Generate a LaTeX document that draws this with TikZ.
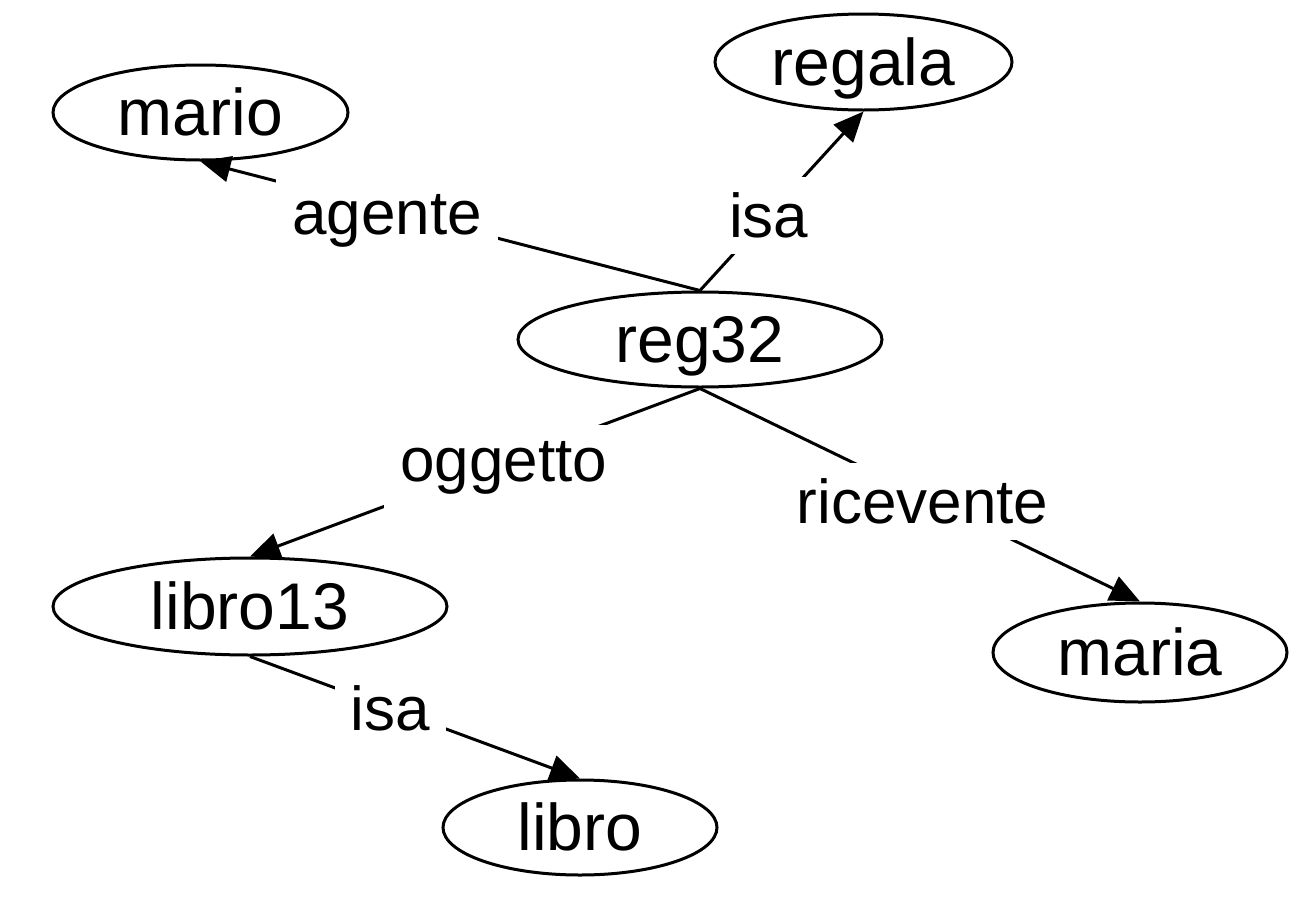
\documentclass[tikz,border=0pt]{standalone}
\usepackage{fontspec}
\setmainfont{Liberation Sans}
\usetikzlibrary{shapes.geometric,arrows.meta}

\tikzset{
  concept/.style={draw, ellipse, line width=1.5pt, inner sep=0pt, text height=23pt, text depth=0pt, font=\fontsize{33}{40}\selectfont},
  rel/.style={line width=1.5pt, -{Triangle[length=15pt,width=13pt]}},
  lbl/.style={fill=white, inner sep=8pt, font=\fontsize{31}{38}\selectfont}
}

\begin{document}
\begin{tikzpicture}[x=0.5pt, y=-0.5pt]
		\useasboundingbox (0,0) rectangle (1308,900);

		\draw (200.5, 112.5) 	node[concept, minimum width=147.5pt, minimum height=47.5pt] (mario) 	{mario};
		\draw (863.5, 62) 		node[concept, minimum width=148.5pt, minimum height=48pt] (regala) 	{regala};
		\draw (700, 339.5) 		node[concept, minimum width=182pt, minimum height=47.5pt] (reg32) 	{reg32};
		\draw (250, 606.5) 		node[concept, minimum width=197pt, minimum height=48.5pt] (libro13) 	{libro13};
		\draw (1140, 652.5) 	node[concept, minimum width=147pt, minimum height=49.5pt] (maria) 	{maria};
		\draw (580, 827.5) 		node[concept, minimum width=137pt, minimum height=47.5pt] (libro) 	{libro};

		\draw[rel] (reg32.north) -- node[lbl, pos=0.626, yshift=-5.5pt] (lagente) {agente} (mario.south);
		\draw[rel] (reg32.north) -- node[lbl, pos=0.42] (lisa1) {isa} (regala.south);
		\draw[rel] (reg32.south) -- node[lbl, pos=0.436, yshift=-3pt] (loggetto) {oggetto} (libro13.north);
		\draw[rel] (reg32.south) -- node[lbl, pos=0.506, yshift=-2.5pt] (lricevente) {ricevente} (maria.north);
		\draw[rel] (libro13.south) -- node[lbl, pos=0.425] (lisa2) {isa} (libro.north);
	\end{tikzpicture}
\end{document}
